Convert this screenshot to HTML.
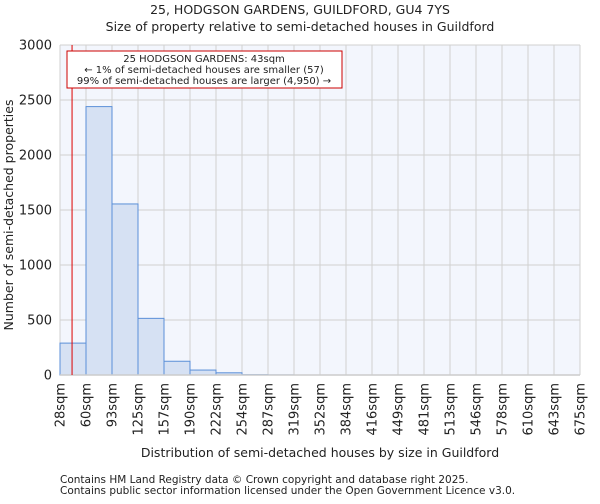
<!DOCTYPE html>
<html><head><meta charset="utf-8"><style>
body{margin:0;background:#fff;font-family:"DejaVu Sans","Liberation Sans",sans-serif;}
svg text{font-family:"DejaVu Sans","Liberation Sans",sans-serif;fill:#222;}
</style></head><body>
<svg id="chart" width="600" height="500" xmlns="http://www.w3.org/2000/svg">
<text x="300" y="14" text-anchor="middle" font-size="12.5">25, HODGSON GARDENS, GUILDFORD, GU4 7YS</text>
<text x="300" y="31" text-anchor="middle" font-size="12.5">Size of property relative to semi-detached houses in Guildford</text>
<rect x="60" y="45" width="520" height="330" fill="#f3f6fd"/>
<g id="grid"></g><g id="bars"></g><g id="axes"></g>
<text transform="translate(13,215) rotate(-90)" text-anchor="middle" font-size="12.5">Number of semi-detached properties</text>
<text x="320" y="457" text-anchor="middle" font-size="12.5">Distribution of semi-detached houses by size in Guildford</text>
<text x="60" y="483" font-size="10.5">Contains HM Land Registry data © Crown copyright and database right 2025.</text>
<text x="60" y="494" font-size="10.5">Contains public sector information licensed under the Open Government Licence v3.0.</text>
<line id="marker" y1="45" y2="375" stroke="#d00" stroke-width="1"/>
<rect x="67" y="51" width="275" height="37" fill="#fff" stroke="#c00" stroke-width="1"/>
<text x="204" y="62" text-anchor="middle" font-size="10">25 HODGSON GARDENS: 43sqm</text>
<text x="204" y="73" text-anchor="middle" font-size="10">← 1% of semi-detached houses are smaller (57)</text>
<text x="204" y="84" text-anchor="middle" font-size="10">99% of semi-detached houses are larger (4,950) →</text>
</svg>
<script>
const binLabels=["28sqm","60sqm","93sqm","125sqm","157sqm","190sqm","222sqm","254sqm","287sqm","319sqm","352sqm","384sqm","416sqm","449sqm","481sqm","513sqm","546sqm","578sqm","610sqm","643sqm","675sqm"];
const counts=[290,2440,1555,515,125,45,20,3,1,0,0,0,0,0,0,0,0,0,0,0];
const yTicks=[0,500,1000,1500,2000,2500,3000];
const markerValue=43;
const binStart=28,binEnd=675;
const NS="http://www.w3.org/2000/svg";
const L=60,R=580,T=45,B=375,yMax=3000;
const nb=counts.length,bw=(R-L)/nb;
const xi=i=>L+i*bw;
const y=v=>B-v/yMax*(B-T);
const xv=v=>L+(v-binStart)/(binEnd-binStart)*(R-L);
function mk(tag,attrs,parent){const e=document.createElementNS(NS,tag);for(const k in attrs)e.setAttribute(k,attrs[k]);document.getElementById(parent).appendChild(e);return e;}
yTicks.forEach(t=>{
 const g=mk("line",{x1:L,x2:R,y1:y(t),y2:y(t),stroke:"#d0d0d0"},"grid");
 
 
 const lb=mk("text",{x:L-8,y:y(t)+4.5,"text-anchor":"end","font-size":"13"},"axes");
 lb.textContent=t;
 
 
});
binLabels.forEach((s,i)=>{
 const g=mk("line",{x1:xi(i),x2:xi(i),y1:T,y2:B,stroke:"#d0d0d0"},"grid");
 
 
 const lb=mk("text",{transform:`translate(${xi(i)+4.5},383) rotate(-90)`,"text-anchor":"end","font-size":"13"},"axes");
 lb.textContent=s;
 
 
});
counts.forEach((c,i)=>{
 if(c<=0)return;
 const r=mk("rect",{x:xi(i),y:y(c),width:bw,height:B-y(c),fill:"#d6e1f3",stroke:"#5b8fd8","stroke-width":"1"},"bars");
 
 
});
const ax=mk("line",{x1:L,x2:R,y1:B,y2:B,stroke:"#ccc","stroke-width":"1.5"},"axes");


const m=document.getElementById("marker");m.setAttribute("x1",xv(markerValue));m.setAttribute("x2",xv(markerValue));
</script>
</body></html>
